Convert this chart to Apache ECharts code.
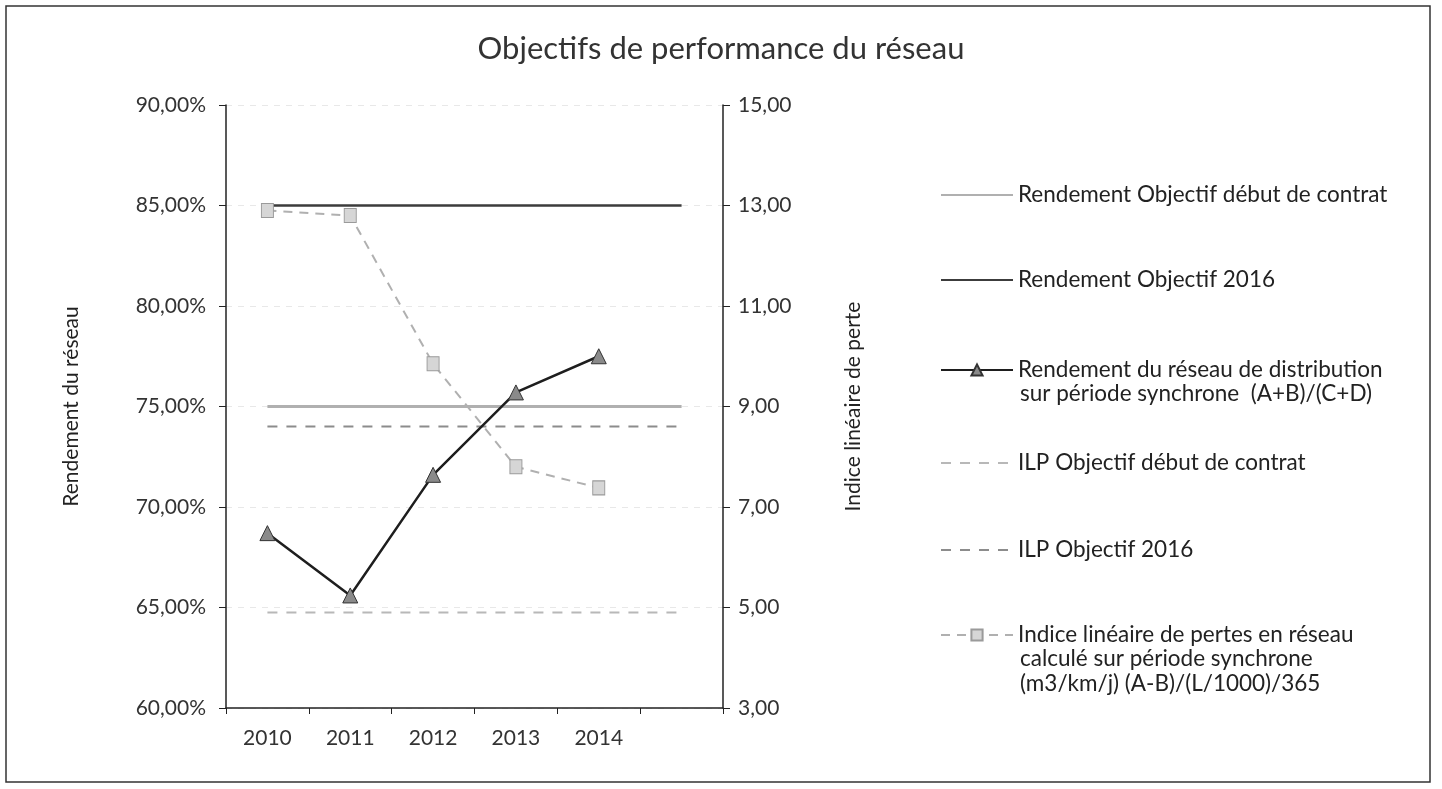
<!DOCTYPE html>
<html><head><meta charset="utf-8">
<script src="https://cdn.jsdelivr.net/npm/echarts@6/dist/echarts.min.js"></script>
<style>html,body{margin:0;padding:0;background:#fff}#c{width:1442px;height:789px}</style>
</head><body><div id="c"></div>
<script>
const categories = ['2010', '2011', '2012', '2013', '2014', ''];
const rendementObjectifDebut = [75, 75, 75, 75, 75, 75];
const rendementObjectif2016 = [85, 85, 85, 85, 85, 85];
const rendementReseau = [68.7, 65.6, 71.6, 75.7, 77.5, null];
const ilpObjectifDebut = [4.9, 4.9, 4.9, 4.9, 4.9, 4.9];
const ilpObjectif2016 = [8.6, 8.6, 8.6, 8.6, 8.6, 8.6];
const ilpReseau = [12.9, 12.8, 9.85, 7.8, 7.38, null];
const leftTicks = [60, 65, 70, 75, 80, 85, 90];
const rightTicks = [3, 5, 7, 9, 11, 13, 15];

const names = [
  ['Rendement Objectif début de contrat'],
  ['Rendement Objectif 2016'],
  ['Rendement du réseau de distribution', 'sur période synchrone  (A+B)/(C+D)'],
  ['ILP Objectif début de contrat'],
  ['ILP Objectif 2016'],
  ['Indice linéaire de pertes en réseau', 'calculé sur période synchrone', '(m3/km/j) (A-B)/(L/1000)/365']
];
const seriesNames = names.map(n => n.join(' '));
const legendY = [195, 280, 370, 463, 550, 635];
const hasMarker = [false, false, true, false, false, true];
const FONT = 'Lato';
const FS = 22.5;
const LH = 25;

const chart = echarts.init(document.getElementById('c'), null, {renderer: 'canvas'});

const legends = seriesNames.map((n, i) => ({
  data: [hasMarker[i] ? {name: n} : {name: n, itemStyle: {opacity: 0}}],
  left: 940,
  top: legendY[i] - 12,
  padding: 0,
  itemWidth: 72,
  itemHeight: 14,
  itemGap: 4,
  selectedMode: false,
  formatter: () => names[i][0],
  textStyle: {fontFamily: FONT, fontSize: FS, color: '#222', lineHeight: 24}
}));

const extraText = [];
names.forEach((n, i) => {
  for (let k = 1; k < n.length; k++) {
    extraText.push({
      type: 'text', left: 1020, top: legendY[i] + k * LH - 13,
      style: {text: n[k], font: FS + 'px ' + FONT, fill: '#222'}
    });
  }
});

const pct = v => v.toFixed(2).replace('.', ',') + '%';
const dec = v => v.toFixed(2).replace('.', ',');

chart.setOption({
  animation: false,
  backgroundColor: '#fff',
  title: {
    text: 'Objectifs de performance du réseau',
    left: 'center', top: 28,
    textStyle: {fontFamily: FONT, fontSize: 31, fontWeight: 'normal', color: '#333'}
  },
  legend: legends,
  graphic: [
    {type: 'rect', shape: {x: 6, y: 6, width: 1424, height: 776}, style: {fill: null, stroke: '#333', lineWidth: 1.5}, z: -1}
  ].concat(extraText),
  grid: {left: 226, right: 719, top: 105, bottom: 81},
  xAxis: {
    type: 'category', data: categories, boundaryGap: true,
    axisLine: {lineStyle: {color: '#222', width: 1.5}},
    axisTick: {show: true, length: 6, inside: false, lineStyle: {color: '#222'}},
    axisLabel: {fontFamily: FONT, fontSize: 21, color: '#333', margin: 20}
  },
  yAxis: [
    {
      type: 'value', min: 60, max: 90, interval: 5,
      name: 'Rendement du réseau', nameLocation: 'middle', nameGap: 144,
      nameTextStyle: {fontFamily: FONT, fontSize: 21, color: '#222'},
      axisLine: {show: true, lineStyle: {color: '#222', width: 1.5}},
      axisTick: {show: true, length: 7, lineStyle: {color: '#222'}},
      axisLabel: {fontFamily: FONT, fontSize: 21, color: '#333', margin: 20, formatter: pct, customValues: leftTicks},
      splitLine: {show: true, lineStyle: {color: '#e8e8e8', type: [6, 6], width: 1}}
    },
    {
      type: 'value', min: 3, max: 15, position: 'right',
      name: 'Indice linéaire de perte', nameLocation: 'middle', nameGap: 120,
      nameTextStyle: {fontFamily: FONT, fontSize: 21, color: '#222'},
      axisLine: {show: true, lineStyle: {color: '#222', width: 1.5}},
      axisTick: {show: true, length: 7, lineStyle: {color: '#222'}, customValues: rightTicks},
      axisLabel: {fontFamily: FONT, fontSize: 21, color: '#333', margin: 15, formatter: dec, customValues: rightTicks},
      splitLine: {show: false}
    }
  ],
  series: [
    {name: seriesNames[0], type: 'line', yAxisIndex: 0, data: rendementObjectifDebut, symbol: 'none',
     lineStyle: {color: '#b0b0b0', width: 3}, itemStyle: {color: '#b0b0b0'}, z: 2},
    {name: seriesNames[1], type: 'line', yAxisIndex: 0, data: rendementObjectif2016, symbol: 'none',
     lineStyle: {color: '#3c3c3c', width: 2.5}, itemStyle: {color: '#3c3c3c'}, z: 2},
    {name: seriesNames[3], type: 'line', yAxisIndex: 1, data: ilpObjectifDebut, symbol: 'none',
     lineStyle: {color: '#b8b8b8', width: 2, type: [10, 9]}, itemStyle: {color: '#b8b8b8'}, z: 2},
    {name: seriesNames[4], type: 'line', yAxisIndex: 1, data: ilpObjectif2016, symbol: 'none',
     lineStyle: {color: '#8c8c8c', width: 2, type: [10, 9]}, itemStyle: {color: '#8c8c8c'}, z: 2},
    {name: seriesNames[5], type: 'line', yAxisIndex: 1, data: ilpReseau, symbol: 'rect', symbolSize: [12, 14],
     lineStyle: {color: '#b0b0b0', width: 2, type: [9, 7]},
     itemStyle: {color: '#d6d6d6', borderColor: '#9a9a9a', borderWidth: 1}, z: 3},
    {name: seriesNames[2], type: 'line', yAxisIndex: 0, data: rendementReseau, symbol: 'triangle', symbolSize: 15,
     lineStyle: {color: '#1e1e1e', width: 2.5},
     itemStyle: {color: '#8a8a8a', borderColor: '#333', borderWidth: 1}, z: 4}
  ]
});
</script>
</body></html>
